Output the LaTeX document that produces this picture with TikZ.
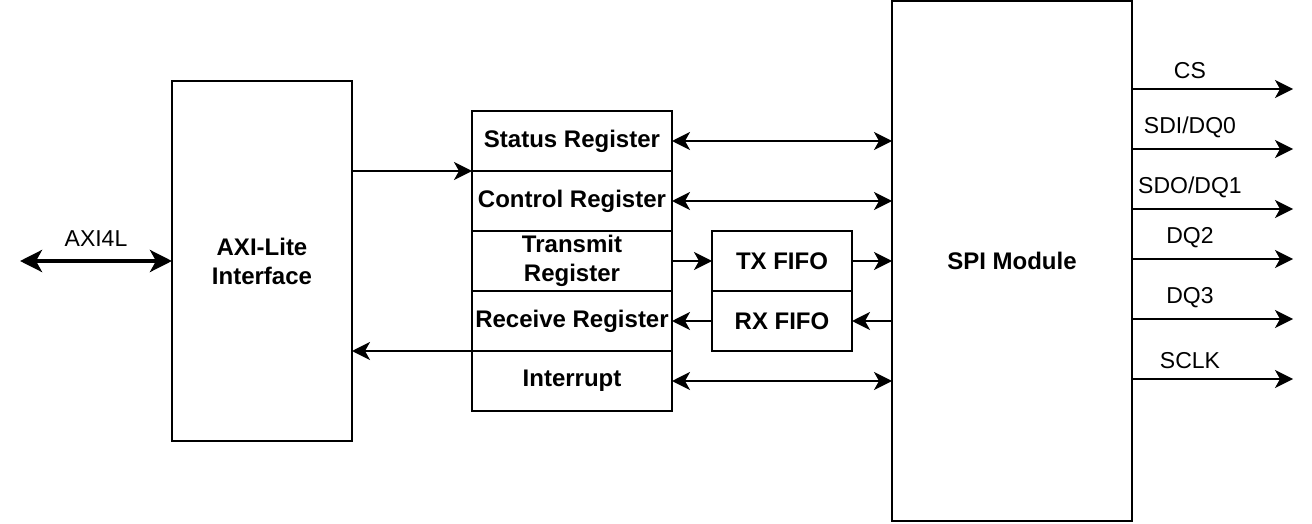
\documentclass[tikz,border=0pt]{standalone}
\usepackage{fontspec}
\setmainfont{Liberation Sans}
\usepackage{tikz}
\usetikzlibrary{positioning, arrows.meta}

\tikzset{
  blk/.style={draw, line width=1pt, outer sep=0pt, align=center,
              font=\fontsize{12}{14.5}\selectfont\bfseries},
  reg/.style={blk, minimum width=100pt, minimum height=30pt, inner xsep=1pt, inner ysep=0pt},
  fifo/.style={blk, minimum width=70pt, minimum height=30pt, inner ysep=0pt},
  sig/.style={line width=1pt},
  padlab/.style={font=\fontsize{11.5}{14}\selectfont, above, pos=0.36, yshift=1.5pt},
}

\begin{document}
\begin{tikzpicture}[x=0.5pt, y=-0.5pt,
    >={Stealth[length=9pt, width=9pt, inset=2.5pt]}]
  \useasboundingbox (0,0) rectangle (1312,524);

  \node[blk, minimum width=90pt, minimum height=180pt] (axi) at (262,261) {AXI-Lite\\Interface};

  \node[reg] (status) at (572,141) {Status Register};
  \node[reg, below=0pt of status] (control) {Control Register};
  \node[reg, below=0pt of control] (transmit) {Transmit\\Register};
  \node[reg, below=0pt of transmit] (receive) {Receive Register};
  \node[reg, below=0pt of receive] (intr) {Interrupt};

  \node[fifo, right=20pt of transmit] (txfifo) {TX FIFO};
  \node[fifo, below=0pt of txfifo] (rxfifo) {RX FIFO};

  \node[blk, minimum width=120pt, minimum height=260pt] (spi) at (1012,261) {SPI Module};

  % host side
  \coordinate (axiport) at (20,261);
  \draw[line width=2pt, {Stealth[length=11pt, width=11pt, inset=3pt]}-{Stealth[length=11pt, width=11pt, inset=3pt]}]
    (axiport) -- node[above, yshift=3pt, font=\fontsize{11.5}{14}\selectfont] {AXI4L} (axi.west);

  \draw[sig, ->] (axi.east |- status.south west) -- (status.south west);
  \draw[sig, ->] (receive.south west) -- (axi.east |- receive.south west);

  \draw[sig, <->] (status.east) -- (spi.west |- status.east);
  \draw[sig, <->] (control.east) -- (spi.west |- control.east);
  \draw[sig, ->] (transmit.east) -- (txfifo.west);
  \draw[sig, ->] (txfifo.east) -- (spi.west |- txfifo.east);
  \draw[sig, ->] (spi.west |- rxfifo.east) -- (rxfifo.east);
  \draw[sig, ->] (rxfifo.west) -- (receive.east |- rxfifo.west);
  \draw[sig, <->] (intr.east) -- (spi.west |- intr.east);

  % SPI pins
  \foreach \y/\lab/\nm in {89/CS/cs, 149/SDI\slash DQ0/sdi, 209/SDO\slash DQ1/sdo,
                            259/DQ2/dqb, 319/DQ3/dqc, 379/SCLK/sclk} {
    \coordinate (\nm) at (1293,\y);
    \draw[sig, ->] (spi.east |- \nm) -- node[padlab] {\lab} (\nm);
  }
\end{tikzpicture}
\end{document}
